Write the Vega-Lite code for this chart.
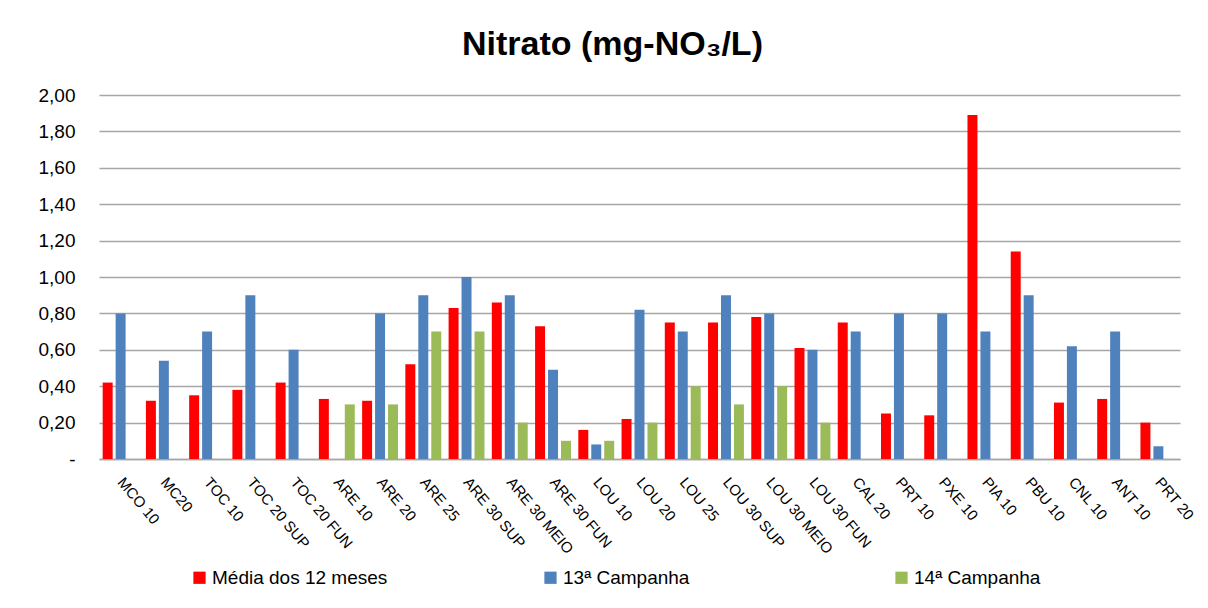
{
  "$schema": "https://vega.github.io/schema/vega-lite/v6.json",
  "width": 1081,
  "height": 364,
  "autosize": {"type": "none"},
  "padding": {"left": 99, "top": 95, "right": 28, "bottom": 149},
  "background": "white",
  "title": {
    "text": "Nitrato (mg-NO₃/L)",
    "font": "Liberation Sans, sans-serif",
    "fontSize": 34,
    "fontWeight": "bold",
    "color": "#000000",
    "anchor": "middle",
    "dx": -27,
    "offset": 24
  },
  "data": {
    "values": [
      {"ponto": "MCO 10", "serie": "Média dos 12 meses", "valor": 0.42},
      {"ponto": "MCO 10", "serie": "13ª Campanha", "valor": 0.80},
      {"ponto": "MC20", "serie": "Média dos 12 meses", "valor": 0.32},
      {"ponto": "MC20", "serie": "13ª Campanha", "valor": 0.54},
      {"ponto": "TOC 10", "serie": "Média dos 12 meses", "valor": 0.35},
      {"ponto": "TOC 10", "serie": "13ª Campanha", "valor": 0.70},
      {"ponto": "TOC 20 SUP", "serie": "Média dos 12 meses", "valor": 0.38},
      {"ponto": "TOC 20 SUP", "serie": "13ª Campanha", "valor": 0.90},
      {"ponto": "TOC 20 FUN", "serie": "Média dos 12 meses", "valor": 0.42},
      {"ponto": "TOC 20 FUN", "serie": "13ª Campanha", "valor": 0.60},
      {"ponto": "ARE 10", "serie": "Média dos 12 meses", "valor": 0.33},
      {"ponto": "ARE 10", "serie": "14ª Campanha", "valor": 0.30},
      {"ponto": "ARE 20", "serie": "Média dos 12 meses", "valor": 0.32},
      {"ponto": "ARE 20", "serie": "13ª Campanha", "valor": 0.80},
      {"ponto": "ARE 20", "serie": "14ª Campanha", "valor": 0.30},
      {"ponto": "ARE 25", "serie": "Média dos 12 meses", "valor": 0.52},
      {"ponto": "ARE 25", "serie": "13ª Campanha", "valor": 0.90},
      {"ponto": "ARE 25", "serie": "14ª Campanha", "valor": 0.70},
      {"ponto": "ARE 30 SUP", "serie": "Média dos 12 meses", "valor": 0.83},
      {"ponto": "ARE 30 SUP", "serie": "13ª Campanha", "valor": 1.00},
      {"ponto": "ARE 30 SUP", "serie": "14ª Campanha", "valor": 0.70},
      {"ponto": "ARE 30 MEIO", "serie": "Média dos 12 meses", "valor": 0.86},
      {"ponto": "ARE 30 MEIO", "serie": "13ª Campanha", "valor": 0.90},
      {"ponto": "ARE 30 MEIO", "serie": "14ª Campanha", "valor": 0.20},
      {"ponto": "ARE 30 FUN", "serie": "Média dos 12 meses", "valor": 0.73},
      {"ponto": "ARE 30 FUN", "serie": "13ª Campanha", "valor": 0.49},
      {"ponto": "ARE 30 FUN", "serie": "14ª Campanha", "valor": 0.10},
      {"ponto": "LOU 10", "serie": "Média dos 12 meses", "valor": 0.16},
      {"ponto": "LOU 10", "serie": "13ª Campanha", "valor": 0.08},
      {"ponto": "LOU 10", "serie": "14ª Campanha", "valor": 0.10},
      {"ponto": "LOU 20", "serie": "Média dos 12 meses", "valor": 0.22},
      {"ponto": "LOU 20", "serie": "13ª Campanha", "valor": 0.82},
      {"ponto": "LOU 20", "serie": "14ª Campanha", "valor": 0.20},
      {"ponto": "LOU 25", "serie": "Média dos 12 meses", "valor": 0.75},
      {"ponto": "LOU 25", "serie": "13ª Campanha", "valor": 0.70},
      {"ponto": "LOU 25", "serie": "14ª Campanha", "valor": 0.40},
      {"ponto": "LOU 30 SUP", "serie": "Média dos 12 meses", "valor": 0.75},
      {"ponto": "LOU 30 SUP", "serie": "13ª Campanha", "valor": 0.90},
      {"ponto": "LOU 30 SUP", "serie": "14ª Campanha", "valor": 0.30},
      {"ponto": "LOU 30 MEIO", "serie": "Média dos 12 meses", "valor": 0.78},
      {"ponto": "LOU 30 MEIO", "serie": "13ª Campanha", "valor": 0.80},
      {"ponto": "LOU 30 MEIO", "serie": "14ª Campanha", "valor": 0.40},
      {"ponto": "LOU 30 FUN", "serie": "Média dos 12 meses", "valor": 0.61},
      {"ponto": "LOU 30 FUN", "serie": "13ª Campanha", "valor": 0.60},
      {"ponto": "LOU 30 FUN", "serie": "14ª Campanha", "valor": 0.20},
      {"ponto": "CAL  20", "serie": "Média dos 12 meses", "valor": 0.75},
      {"ponto": "CAL  20", "serie": "13ª Campanha", "valor": 0.70},
      {"ponto": "PRT 10", "serie": "Média dos 12 meses", "valor": 0.25},
      {"ponto": "PRT 10", "serie": "13ª Campanha", "valor": 0.80},
      {"ponto": "PXE 10", "serie": "Média dos 12 meses", "valor": 0.24},
      {"ponto": "PXE 10", "serie": "13ª Campanha", "valor": 0.80},
      {"ponto": "PIA 10", "serie": "Média dos 12 meses", "valor": 1.89},
      {"ponto": "PIA 10", "serie": "13ª Campanha", "valor": 0.70},
      {"ponto": "PBU 10", "serie": "Média dos 12 meses", "valor": 1.14},
      {"ponto": "PBU 10", "serie": "13ª Campanha", "valor": 0.90},
      {"ponto": "CNL 10", "serie": "Média dos 12 meses", "valor": 0.31},
      {"ponto": "CNL 10", "serie": "13ª Campanha", "valor": 0.62},
      {"ponto": "ANT 10", "serie": "Média dos 12 meses", "valor": 0.33},
      {"ponto": "ANT 10", "serie": "13ª Campanha", "valor": 0.70},
      {"ponto": "PRT 20", "serie": "Média dos 12 meses", "valor": 0.20},
      {"ponto": "PRT 20", "serie": "13ª Campanha", "valor": 0.07}
    ]
  },
  "mark": {"type": "bar"},
  "encoding": {
    "x": {
      "field": "ponto",
      "type": "nominal",
      "sort": null,
      "scale": {"paddingInner": 0.17, "paddingOuter": 0.085},
      "axis": {
        "title": null,
        "labelAngle": 50,
        "labelAlign": "left",
        "labelBaseline": "middle",
        "labelPadding": 20,
        "labelFont": "Liberation Sans, sans-serif",
        "labelFontSize": 15,
        "labelColor": "#000000",
        "ticks": false,
        "tickSize": 0,
        "domain": true,
        "domainColor": "#a6a6a6",
        "domainWidth": 1.5,
        "grid": false
      }
    },
    "xOffset": {
      "field": "serie",
      "type": "nominal",
      "scale": {
        "domain": ["Média dos 12 meses", "13ª Campanha", "14ª Campanha"],
        "paddingInner": 0.23
      }
    },
    "y": {
      "field": "valor",
      "type": "quantitative",
      "scale": {"domain": [0, 2], "nice": false},
      "axis": {
        "title": null,
        "values": [0, 0.2, 0.4, 0.6, 0.8, 1, 1.2, 1.4, 1.6, 1.8, 2],
        "labelExpr": "datum.value == 0 ? '-' : replace(format(datum.value, '.2f'), '.', ',')",
        "labelFont": "Liberation Sans, sans-serif",
        "labelFontSize": 19,
        "labelColor": "#000000",
        "labelPadding": 24,
        "ticks": false,
        "tickSize": 0,
        "domain": false,
        "grid": true,
        "gridColor": "#a6a6a6",
        "gridWidth": 1.5
      }
    },
    "color": {
      "field": "serie",
      "type": "nominal",
      "scale": {
        "domain": ["Média dos 12 meses", "13ª Campanha", "14ª Campanha"],
        "range": ["#ff0000", "#4f81bd", "#9bbb59"]
      },
      "legend": {
        "title": null,
        "orient": "none",
        "legendX": 91,
        "legendY": 473,
        "direction": "horizontal",
        "gridAlign": "all",
        "columnPadding": 153,
        "symbolType": "square",
        "symbolSize": 150,
        "symbolStrokeWidth": 0,
        "labelOffset": 3,
        "labelFont": "Liberation Sans, sans-serif",
        "labelFontSize": 19,
        "labelColor": "#000000",
        "labelLimit": 400,
        "padding": 0
      }
    }
  },
  "config": {
    "view": {"stroke": null}
  }
}
